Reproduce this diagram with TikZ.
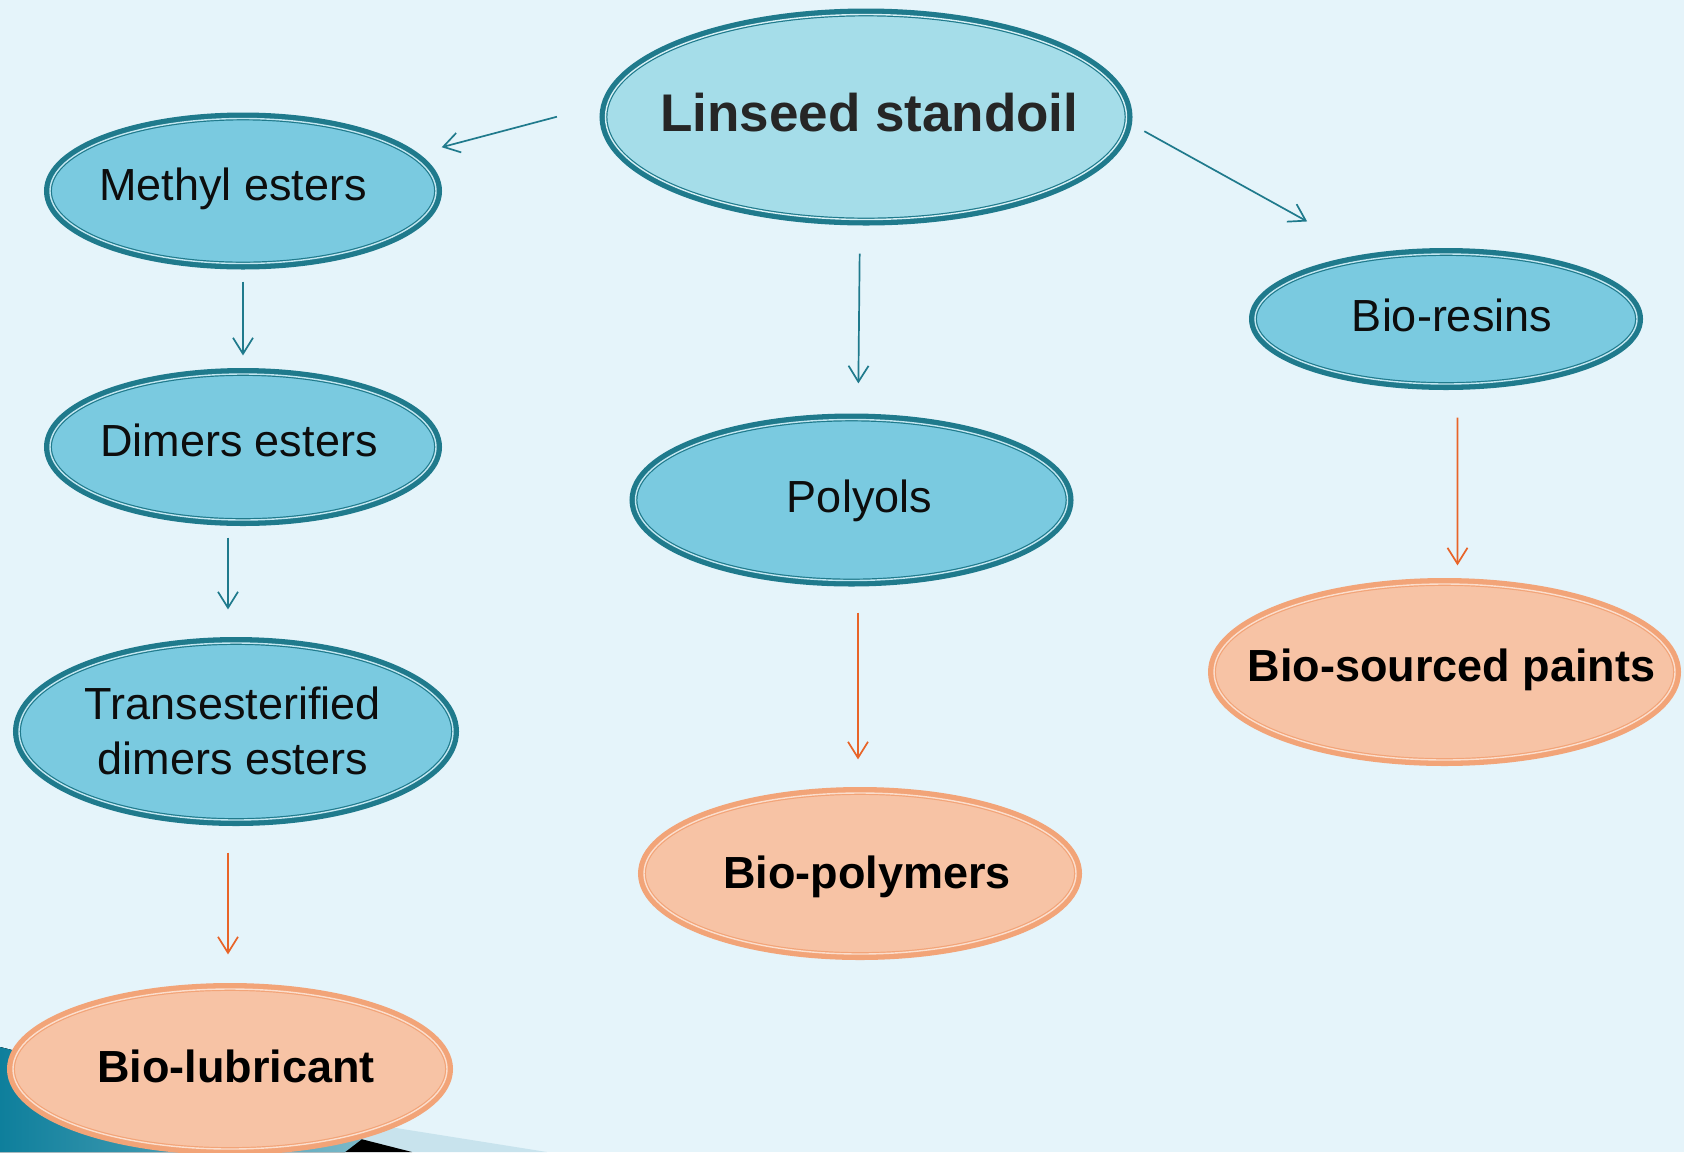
\documentclass[tikz,border=0pt]{standalone}
\usepackage{fontspec}
\setmainfont{Liberation Sans}
\usetikzlibrary{arrows.meta,shapes.geometric,calc}

\definecolor{bgblue}{HTML}{E5F4FA}
\definecolor{topfill}{HTML}{A5DDE9}
\definecolor{nodeblue}{HTML}{7ACAE0}
\definecolor{edgeteal}{HTML}{1F7A8C}
\definecolor{nodeorange}{HTML}{F7C3A5}
\definecolor{edgeorange}{HTML}{F2A478}
\definecolor{arroworange}{HTML}{E86428}
\definecolor{cornerlight}{HTML}{C8E3ED}
\definecolor{cornerteal}{HTML}{0E7F9C}

% text of an oval: shift right by #1, baseline raised by #2
\newcommand{\ovaltext}[3]{\makebox[0pt]{\hspace*{#1}\hspace*{#1}\raisebox{#2}{#3}}}

\tikzset{
  ovalbase/.style={ellipse, inner sep=0pt, text height=0pt, text depth=0pt,
    line width=0.6pt, double distance=0.7pt},
  blueoval/.style={ovalbase, fill=nodeblue, draw=edgeteal, double=nodeblue!45!white,
    preaction={draw=edgeteal, line width=6pt}, text=black!95,
    font=\fontsize{22.5}{27.5}\selectfont},
  topoval/.style={blueoval, fill=topfill, double=topfill!45!white, text=black!85,
    font=\fontsize{26.5}{32}\selectfont\bfseries},
  orangeoval/.style={ovalbase, fill=nodeorange, draw=edgeorange, double=nodeorange!55!white,
    preaction={draw=edgeorange, line width=6pt}, text=black,
    font=\fontsize{22.5}{27.5}\selectfont\bfseries},
  tealarrow/.style={draw=edgeteal, line width=0.85pt, -{Straight Barb[length=8pt,width=10pt]}},
  orangearrow/.style={draw=arroworange, line width=0.85pt, -{Straight Barb[length=8pt,width=10pt]}}
}

\begin{document}
\begin{tikzpicture}[x=0.5pt,y=-0.5pt]
\fill[bgblue] (0,0) rectangle (1684,1152);
\useasboundingbox (0,0) rectangle (1684,1152);
% corner
\fill[cornerlight] (0,1065) -- (547,1152) -- (0,1152) -- cycle;
\fill[black] (0,1047) -- (412,1152) -- (0,1152) -- cycle;
\fill[left color=cornerteal, right color=cornerteal!55!white] (0,1047) -- (362,1139) -- (345,1152) -- (0,1152) -- cycle;

\node[topoval, minimum width=260.5pt, minimum height=102.5pt] (linseed) at (866,117) {\ovaltext{1.6pt}{-7.25pt}{Linseed standoil}};
\node[blueoval, minimum width=193pt, minimum height=72.5pt] (methyl) at (243,191) {\ovaltext{-5.1pt}{-4.6pt}{Methyl esters}};
\node[blueoval, minimum width=193pt, minimum height=73pt] (dimers) at (243,447) {\ovaltext{-2.1pt}{-4.7pt}{Dimers esters}};
\node[blueoval, minimum width=217pt, minimum height=88.5pt] (trans) at (236,731.5) {\ovaltext{-1.6pt}{-7.6pt}{\begin{tabular}{@{}c@{}}Transesterified\\dimers esters\end{tabular}}};
\node[orangeoval, minimum width=217pt, minimum height=80pt] (lubricant) at (230,1069) {\ovaltext{3pt}{-6.8pt}{Bio-lubricant}};
\node[blueoval, minimum width=216pt, minimum height=80.5pt] (polyols) at (851.5,500) {\ovaltext{4pt}{-6.2pt}{Polyols}};
\node[orangeoval, minimum width=216pt, minimum height=80.5pt] (polymers) at (860,873.5) {\ovaltext{3.5pt}{-7.3pt}{Bio-polymers}};
\node[blueoval, minimum width=191pt, minimum height=65pt] (resins) at (1446,319) {\ovaltext{3pt}{-6.3pt}{Bio-resins}};
\node[orangeoval, minimum width=230.5pt, minimum height=88pt] (paints) at (1444.5,672) {\ovaltext{3.5pt}{-4.6pt}{Bio-sourced paints}};

\draw[tealarrow, shorten <=26pt, shorten >=15.5pt] (linseed.177) -- (methyl.12);
\draw[tealarrow, shorten <=10pt, shorten >=38pt] (linseed.-1) -- (resins.140);
\draw[tealarrow, shorten <=16.75pt, shorten >=17.75pt] ([xshift=-3pt]linseed.south) -- ([xshift=3.25pt]polyols.north);
\draw[tealarrow, shorten <=8.75pt, shorten >=9pt] (methyl.south) -- (dimers.north);
\draw[tealarrow, shorten <=8.5pt, shorten >=16.5pt] ([xshift=-7.5pt]dimers.south) -- ([xshift=-4pt]trans.north);
\draw[orangearrow, shorten <=16pt, shorten >=17pt] ([xshift=-4pt]trans.south) -- ([xshift=-1pt]lubricant.north);
\draw[orangearrow, shorten <=15.75pt, shorten >=16.5pt] ([xshift=3.25pt]polyols.south) -- ([xshift=-1pt]polymers.north);
\draw[orangearrow, shorten <=16.5pt, shorten >=9pt] ([xshift=5.7pt]resins.south) -- ([xshift=6.5pt]paints.north);
\end{tikzpicture}
\end{document}
